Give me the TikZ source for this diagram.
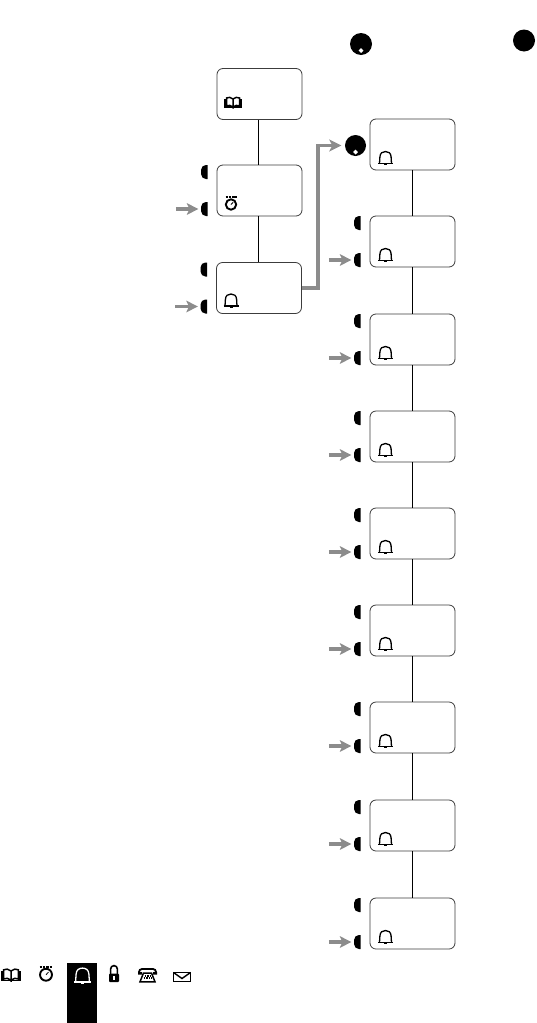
\documentclass[tikz,border=0pt]{standalone}
\usepackage{tikz}
\usetikzlibrary{arrows.meta}
\definecolor{inkblack}{HTML}{000000}
\definecolor{frame}{HTML}{3C3C3C}
\definecolor{pointer}{HTML}{8C8C8C}
\tikzset{
  pics/bell/.style={code={
    \draw[line width=1.6pt] (-7.5,6) -- (7.5,6);
    \draw[line width=1.3pt] (-6,6) -- (-5.6,-.5) .. controls (-5.4,-4.5) and (-3,-6) .. (0,-6) .. controls (3,-6) and (5.4,-4.5) .. (5.6,-.5) -- (6,6);
    \draw[line width=1.4pt] (-1.5,7) -- (1.5,7);
  }},
  pics/book/.style={code={
    \draw[line width=1.5pt] (0,-3.5) .. controls (-2,-5.5) and (-4.5,-5.5) .. (-6.5,-4.5) -- (-6.5,3.5) .. controls (-4.5,2.5) and (-2,2.5) .. (0,4.5) .. controls (2,2.5) and (4.5,2.5) .. (6.5,3.5) -- (6.5,-4.5) .. controls (4.5,-5.5) and (2,-5.5) .. (0,-3.5) -- cycle (0,-3.5) -- (0,6);
    \draw[line width=1.8pt] (-7.8,-3.5) -- (-7.8,4.8) -- (7.8,4.8) -- (7.8,-3.5);
  }},
  pics/timer/.style={code={
    \draw[line width=1.9pt] (0,1.5) circle (5.2);
    \draw[line width=.8pt] (0,1.5) -- (2.2,-0.8);
    \draw[line width=2pt,dash pattern=on 2.4pt off .9pt] (-5.5,-5.6) -- (5.5,-5.6);
  }},
  pics/padlock/.style={code={
    \draw[line width=1.6pt] (-3.4,0) -- (-3.4,-5) arc[start angle=180,end angle=360,radius=3.4] -- (3.4,0);
    \fill[inkblack,rounded corners=1pt] (-5,-.5) rectangle (5,8);
    \fill[white] (-1,1.5) rectangle (1,5.5);
  }},
  pics/phone/.style={code={
    \draw[line width=1.8pt,rounded corners=3pt] (-8.5,-1.5) -- (-8.5,-6) -- (8.5,-6) -- (8.5,-1.5);
    \fill[inkblack] (-9.5,-3) rectangle (-5.5,-0.5) (5.5,-3) rectangle (9.5,-0.5);
    \draw[line width=1.5pt] (-4,-2) -- (-7.5,6.8) -- (7.5,6.8) -- (4,-2) -- cycle;
    \draw[line width=1.5pt,dash pattern=on 1.5pt off 1pt] (-3,1) -- (3,1) (-3.8,3.2) -- (3.8,3.2);
  }},
  pics/envelope/.style={code={
    \draw[line width=1.4pt] (-8.5,-4.5) rectangle (8.5,4.5);
    \draw[line width=1.4pt] (-8.5,-4.5) -- (0,1.5) -- (8.5,-4.5);
  }}
}
\begin{document}
\begin{tikzpicture}[
    x=1pt,y=-1pt,
    box/.style={draw=frame,line width=.8pt,rounded corners=6pt,fill=white,
      minimum width=85pt,minimum height=51pt,inner sep=0pt},
    softkey/.style={minimum width=6.5pt,minimum height=14pt,inner sep=0pt,
      path picture={\fill[inkblack,rounded corners=4.8pt]
        (path picture bounding box.south west) rectangle ([xshift=8pt]path picture bounding box.north east);}},
    dial/.style={circle,fill=inkblack,minimum size=#1,inner sep=0pt},
    knob/.style={path picture={\fill[white] ([yshift=-6.6pt]path picture bounding box.center) ++(0,-2.4) -- ++(2.4,2.4) -- ++(-2.4,2.4) -- ++(-2.4,-2.4) -- cycle;}},
    link/.style={draw=inkblack,line width=.8pt},
    arr/.style={-{Stealth[length=11.5pt,width=11.5pt,inset=2.5pt]},line width=3.4pt,draw=pointer,shorten >=2.5pt},
    feed/.style={-{Stealth[length=12pt,width=12pt,inset=3pt]},line width=3.8pt,draw=pointer,shorten >=3.5pt}
  ]
  \useasboundingbox (0,0) rectangle (536,1023);
  \node[dial=22pt,knob] (dialA) at (361,44) {};
  \node[dial=22pt] (dialB) at (524,40.5) {};

  \node[box] (phonebook) at (259.5,94) {};
  \node[box] (clock) at (259.5,190.5) {};
  \node[box] (ringer) at (259,288) {};
  \draw[link] ([xshift=-1pt]phonebook.south) -- ([xshift=-1pt]clock.north);
  \draw[link] ([xshift=-1pt]clock.south) -- ([xshift=-.5pt]ringer.north);
  \pic at (233,102.5) {book};
  \pic at (231,203) {timer};
  \pic at (231,300) {bell};

  \foreach \n in {clock,ringer} {
    \node[softkey] (\n up) at ([xshift=-12.25pt,yshift=18.5pt]\n.west) {};
    \node[softkey] (\n down) at ([xshift=-12.25pt,yshift=-18.5pt]\n.west) {};
    \coordinate (\n in) at ([xshift=-25pt]\n down.west);
    \draw[arr] (\n in) -- (\n down);
  }

  \foreach \y [count=\i] in {144.5,241.5,339.5,436.5,533.5,630.5,727.5,825.5,923.5} {
    \node[box] (tone\i) at (412.5,\y) {};
    \pic at (385.5,\y+13) {bell};
  }
  \foreach \i [remember=\i as \j (initially 1)] in {2,...,9} {
    \draw[link] (tone\j) -- (tone\i);
    \node[softkey] (up\i) at ([xshift=-12.25pt,yshift=18.5pt]tone\i.west) {};
    \node[softkey] (down\i) at ([xshift=-12.25pt,yshift=-18.5pt]tone\i.west) {};
    \coordinate (in\i) at ([xshift=-25pt]down\i.west);
    \draw[arr] (in\i) -- (down\i);
  }

  \node[dial=21pt,knob] (dialC) at (355.5,145.5) {};
  \draw[feed] (ringer.east) -| (318,145.5) -- (dialC);

  \node[fill=inkblack,minimum width=30pt,minimum height=60pt,inner sep=0pt] (selected) at (82,993) {};
  \pic[scale=1.15] at (11,975) {book};
  \pic[scale=1.15] at (46,973) {timer};
  \pic[scale=1.15,color=white] at (82.5,975) {bell};
  \pic at (114,974) {padlock};
  \pic at (147.5,975) {phone};
  \pic at (182,977) {envelope};
\end{tikzpicture}
\end{document}
